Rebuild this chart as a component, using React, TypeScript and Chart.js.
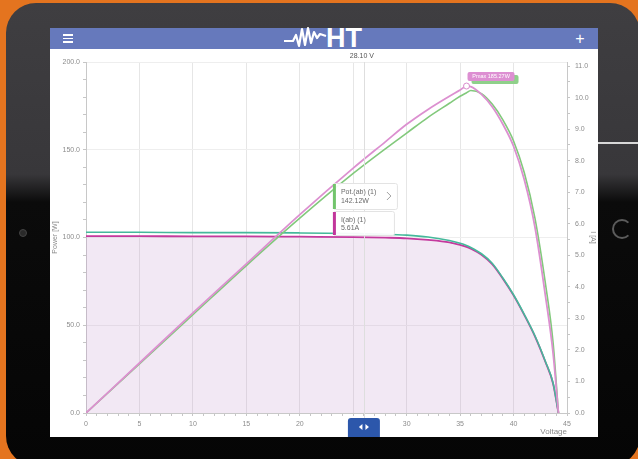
import React, { useEffect, useRef } from "react";
import { Chart, registerables } from "chart.js";

Chart.register(...registerables);

// ---- data ----
const voltage = [0, 5, 10, 15, 20, 25, 28, 30, 32, 34, 35, 35.6, 36, 37, 38, 39, 40, 41, 42, 43, 43.7, 44.2];
const powerPink = [0, 28.5, 57, 85, 113, 139.5, 154.5, 164.5, 173, 180.5, 184, 186.3, 186, 181.5, 174.5, 164.5, 152, 133, 106, 66, 34, 0];
const powerGreen = [0, 28, 56, 84, 111, 136.5, 150.5, 159.5, 168.5, 176.5, 180.5, 182.5, 183.8, 182, 176, 167, 155, 137, 111, 73, 40, 0];
const currentGreen = [5.73, 5.73, 5.72, 5.72, 5.71, 5.69, 5.67, 5.64, 5.58, 5.47, 5.38, 5.31, 5.25, 5.05, 4.75, 4.28, 3.75, 3.13, 2.45, 1.62, 0.95, 0];
const currentPink = [5.61, 5.61, 5.6, 5.6, 5.59, 5.58, 5.56, 5.54, 5.49, 5.41, 5.33, 5.27, 5.21, 5.02, 4.72, 4.26, 3.73, 3.11, 2.43, 1.6, 0.93, 0];

const xMin = 0;
const xMax = 45;
const powerMax = 200;
const currentMax = 11.13;
const currentTickTop = 11;

const cursorVoltage = 26.0;
const cursorLabel = "28.10 V";
const tipPowerName = "Pot.(ab) (1)";
const tipPowerValue = "142.12W";
const tipCurrentName = "I(ab) (1)";
const tipCurrentValue = "5.61A";
const pmaxLabel = "Pmax 185.27W";

const FONT = '"Liberation Sans", Arial, sans-serif';

const C_PINK_P = "#dc90d0";
const C_GREEN_P = "#82c97c";
const C_GREEN_I = "#45b99b";
const C_PINK_I = "#c4399d";

const overlay = {
  id: "overlay",
  afterDraw(chart: any) {
    const { ctx, chartArea, scales } = chart;
    const cx = scales.x.getPixelForValue(cursorVoltage);
    const btnTop = chart.height - 19;
    ctx.save();
    // crosshair
    ctx.strokeStyle = "#dedede";
    ctx.lineWidth = 1;
    ctx.beginPath();
    ctx.moveTo(Math.round(cx) + 0.5, chartArea.top);
    ctx.lineTo(Math.round(cx) + 0.5, btnTop);
    ctx.stroke();
    // cursor title
    ctx.font = `7px ${FONT}`;
    ctx.fillStyle = "#555";
    ctx.textAlign = "center";
    ctx.textBaseline = "middle";
    ctx.fillText(cursorLabel, cx - 2, 7);

    // peak marker
    let pi = 0;
    powerPink.forEach((v, i) => { if (v > powerPink[pi]) pi = i; });
    const px = scales.x.getPixelForValue(voltage[pi]);
    const py = scales.y.getPixelForValue(powerPink[pi]);
    ctx.fillStyle = "#8fd08a";
    ctx.beginPath();
    ctx.roundRect(px + 5, py - 11, 47, 9, 2);
    ctx.fill();
    ctx.fillStyle = "#dd8fd2";
    ctx.beginPath();
    ctx.roundRect(px + 1, py - 14, 47, 9, 2);
    ctx.fill();
    ctx.fillStyle = "#ffffff";
    ctx.font = `5.5px ${FONT}`;
    ctx.textAlign = "center";
    ctx.fillText(pmaxLabel, px + 24.5, py - 9.5);
    ctx.beginPath();
    ctx.arc(px, py, 3, 0, Math.PI * 2);
    ctx.fillStyle = "#fff";
    ctx.fill();
    ctx.strokeStyle = "#d98ccc";
    ctx.lineWidth = 1;
    ctx.stroke();

    // tooltip boxes
    const drawTip = (left: number, top: number, w: number, h: number, bar: string, l1: string, l2: string, chevron: boolean) => {
      ctx.fillStyle = "rgba(255,255,255,0.94)";
      ctx.strokeStyle = "#e3e3e3";
      ctx.lineWidth = 1;
      ctx.beginPath();
      ctx.roundRect(left + 0.5, top + 0.5, w, h, 2);
      ctx.fill();
      ctx.stroke();
      ctx.fillStyle = bar;
      ctx.fillRect(left, top + 1, 3, h - 1);
      ctx.fillStyle = "#6a6a6a";
      ctx.font = `7px ${FONT}`;
      ctx.textAlign = "left";
      ctx.textBaseline = "middle";
      ctx.fillText(l1, left + 8, top + h * 0.36);
      ctx.fillText(l2, left + 8, top + h * 0.7);
      if (chevron) {
        ctx.strokeStyle = "#a0a0a0";
        ctx.lineWidth = 1;
        ctx.beginPath();
        ctx.moveTo(left + w - 10, top + h / 2 - 4);
        ctx.lineTo(left + w - 6, top + h / 2);
        ctx.lineTo(left + w - 10, top + h / 2 + 4);
        ctx.stroke();
      }
    };
    drawTip(cx - 31, 134, 64, 26, "#72c46c", tipPowerName, tipPowerValue, true);
    drawTip(cx - 31, 162, 61, 24, "#c2369b", tipCurrentName, tipCurrentValue, false);

    // bottom slider handle
    ctx.fillStyle = "#2c57ab";
    ctx.beginPath();
    ctx.roundRect(cx - 16, btnTop, 32, 24, [3, 3, 0, 0]);
    ctx.fill();
    ctx.fillStyle = "#fff";
    const my = btnTop + 9;
    ctx.beginPath();
    ctx.moveTo(cx - 1.5, my - 3);
    ctx.lineTo(cx - 1.5, my + 3);
    ctx.lineTo(cx - 5, my);
    ctx.closePath();
    ctx.fill();
    ctx.beginPath();
    ctx.moveTo(cx + 1.5, my - 3);
    ctx.lineTo(cx + 1.5, my + 3);
    ctx.lineTo(cx + 5, my);
    ctx.closePath();
    ctx.fill();
    ctx.restore();
  },
};

function ChartView() {
  const ref = useRef<HTMLCanvasElement | null>(null);
  useEffect(() => {
    if (!ref.current) return;
    const pts = (ys: number[]) => voltage.map((v, i) => ({ x: v, y: ys[i] }));
    const line = {
      pointRadius: 0,
      cubicInterpolationMode: "monotone" as const,
      fill: false,
    };
    const tickFont = { size: 7, family: FONT };
    const chart = new Chart(ref.current, {
      type: "line",
      data: {
        datasets: [
          { ...line, label: "P green", data: pts(powerGreen), yAxisID: "y", borderColor: C_GREEN_P, borderWidth: 1.6, order: 2 },
          { ...line, label: "P pink", data: pts(powerPink), yAxisID: "y", borderColor: C_PINK_P, borderWidth: 1.8, order: 1 },
          { ...line, label: "I green", data: pts(currentGreen), yAxisID: "y1", borderColor: C_GREEN_I, borderWidth: 1.6, order: 3 },
          {
            ...line,
            label: "I pink",
            data: pts(currentPink),
            yAxisID: "y1",
            borderColor: C_PINK_I,
            borderWidth: 1.8,
            fill: "origin",
            backgroundColor: "rgba(190,140,200,0.2)",
            order: 4,
          },
        ],
      },
      options: {
        animation: false,
        responsive: false,
        maintainAspectRatio: false,
        layout: { padding: { top: 13, left: 0, right: 0, bottom: 0 } },
        plugins: { legend: { display: false }, tooltip: { enabled: false }, title: { display: false } },
        scales: {
          x: {
            type: "linear",
            position: "bottom",
            min: xMin,
            max: xMax,
            ticks: {
              stepSize: 1,
              autoSkip: false,
              maxRotation: 0,
              font: tickFont,
              color: "#8c8c8c",
              padding: 4,
              callback: (v: any) => (Number(v) % 5 === 0 ? String(v) : ""),
            },
            grid: {
              color: (c: any) => (c.tick && c.tick.value % 5 === 0 ? "#e6e6e6" : "rgba(0,0,0,0)"),
              tickColor: "#c6c6c6",
              tickLength: 3,
            },
            border: { color: "#c8c8c8" },
            title: { display: true, text: "Voltage", align: "end", font: { size: 8, family: FONT }, color: "#8a8a8a", padding: 0 },
            afterFit: (s: any) => { s.height = 24; },
          },
          y: {
            type: "linear",
            position: "left",
            min: 0,
            max: powerMax,
            ticks: {
              stepSize: 10,
              autoSkip: false,
              font: tickFont,
              color: "#8c8c8c",
              padding: 3,
              callback: (v: any) => (Number(v) % 50 === 0 ? Number(v).toFixed(1) : ""),
            },
            grid: {
              color: (c: any) => (c.tick && c.tick.value % 50 === 0 ? "#eeeeee" : "rgba(0,0,0,0)"),
              tickColor: "#c6c6c6",
              tickLength: 3,
            },
            border: { color: "#c8c8c8" },
            title: { display: true, text: "Power [W]", font: { size: 7, family: FONT }, color: "#8a8a8a", padding: { top: 1, bottom: 0 } },
            afterFit: (s: any) => { s.width = 36; },
          },
          y1: {
            type: "linear",
            position: "right",
            min: 0,
            max: currentMax,
            afterBuildTicks: (s: any) => {
              const t: { value: number }[] = [];
              for (let v = 0; v <= currentTickTop + 1e-9; v += 0.5) t.push({ value: Math.round(v * 2) / 2 });
              s.ticks = t;
            },
            ticks: {
              autoSkip: false,
              font: tickFont,
              color: "#8c8c8c",
              padding: 5,
              callback: (v: any) => (Number.isInteger(Number(v)) ? Number(v).toFixed(1) : ""),
            },
            grid: { drawOnChartArea: false, tickColor: "#c6c6c6", tickLength: 3 },
            border: { color: "#c8c8c8" },
            title: { display: true, text: "I [A]", font: { size: 7, family: FONT }, color: "#8a8a8a", padding: { top: 1, bottom: 0 } },
            afterFit: (s: any) => { s.width = 31; },
          },
        },
      },
      plugins: [overlay],
    });
    return () => chart.destroy();
  }, []);
  return (
    <canvas
      ref={ref}
      width={548}
      height={388}
      style={{ position: "absolute", left: 50, top: 49, width: 548, height: 388 }}
    />
  );
}

export default function App() {
  const bar = (top: number) => (
    <div style={{ position: "absolute", left: 63, top, width: 10, height: 1.6, background: "#fff" }} />
  );
  return (
    <div style={{ position: "fixed", left: 0, top: 0, width: 638, height: 459, overflow: "hidden", background: "#e4741f" }}>
      {/* tablet body */}
      <div
        style={{
          position: "absolute",
          left: 6,
          top: 3,
          width: 634,
          height: 463,
          borderRadius: 30,
          background: "linear-gradient(180deg,#3f3e41 0%,#38373a 37%,#0b0b0b 43%,#050505 100%)",
        }}
      />
      <div style={{ position: "absolute", left: 598, top: 142, width: 42, height: 2, background: "#d8d8d8" }} />
      <div style={{ position: "absolute", left: 19, top: 229, width: 6, height: 6, borderRadius: "50%", background: "#2a2a2a", border: "1px solid #444" }} />
      <div
        style={{
          position: "absolute",
          left: 612,
          top: 219,
          width: 16,
          height: 16,
          borderRadius: "50%",
          border: "2px solid #5c5c5c",
          borderRightColor: "transparent",
        }}
      />
      {/* screen */}
      <div style={{ position: "absolute", left: 50, top: 28, width: 548, height: 409, background: "#fff" }} />
      <div style={{ position: "absolute", left: 50, top: 28, width: 548, height: 21, background: "#6679bc" }} />
      {bar(34)}
      {bar(37.5)}
      {bar(41)}
      <div
        style={{
          position: "absolute",
          left: 572,
          top: 28,
          width: 16,
          height: 21,
          lineHeight: "21px",
          textAlign: "center",
          color: "#fff",
          fontFamily: FONT,
          fontSize: 16,
        }}
      >
        +
      </div>
      <svg style={{ position: "absolute", left: 284, top: 26, width: 44, height: 24 }} viewBox="0 0 44 24">
        <polyline
          points="0,15 9,15 12,9 15,20 18,3 21,19 24,2 27,17 30,6 33,12 36,8 42,10"
          fill="none"
          stroke="#fff"
          strokeWidth="2.2"
          strokeLinejoin="round"
        />
      </svg>
      <div
        style={{
          position: "absolute",
          left: 326,
          top: 25,
          fontFamily: FONT,
          fontWeight: 700,
          fontSize: 27,
          lineHeight: "27px",
          color: "#fff",
        }}
      >
        HT
      </div>
      <ChartView />
    </div>
  );
}
